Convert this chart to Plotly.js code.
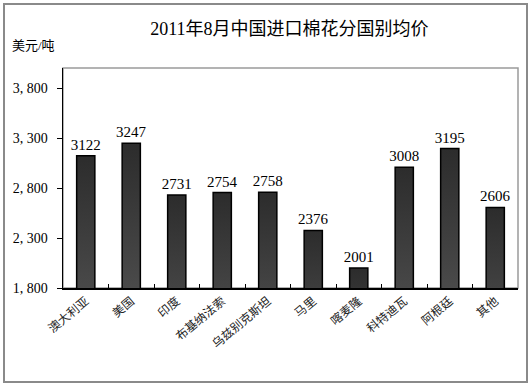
<!DOCTYPE html>
<html>
<head>
<meta charset="utf-8">
<script src="https://cdn.plot.ly/plotly-3.0.1.min.js"></script>
<style>
html,body{margin:0;padding:0;background:#fff;}
#wrap{position:relative;width:531px;height:386px;}
#chart{position:absolute;left:0;top:0;width:531px;height:386px;}
#frame{position:absolute;left:3px;top:3px;width:521px;height:376px;border:2px solid #8a8a8a;pointer-events:none;}
</style>
</head>
<body>
<div id="wrap"><div id="chart"></div><div id="frame"></div></div>
<script>
const categories = ["澳大利亚","美国","印度","布基纳法索","乌兹别克斯坦","马里","喀麦隆","科特迪瓦","阿根廷","其他"];
const prices = [3122, 3247, 2731, 2754, 2758, 2376, 2001, 3008, 3195, 2606];
const yTickVals = [1800, 2300, 2800, 3300, 3800];
const yTickText = ["1, 800","2, 300","2, 800","3, 300","3, 800"];
const chartTitle = "2011年8月中国进口棉花分国别均价";
const unitLabel = "美元/吨";

const FONT = "'Liberation Serif', 'Noto Sans CJK SC', serif";

const trace = {
  type: "bar",
  x: categories,
  y: prices,
  text: prices.map(String),
  textposition: "outside",
  constraintext: "none",
  cliponaxis: false,
  textfont: {family: FONT, size: 15, color: "#000"},
  marker: {color: "#505050", line: {color: "#000", width: 1.5}},
  hoverinfo: "none"
};

const layout = {
  width: 531, height: 386,
  margin: {l: 63, r: 13, t: 68, b: 98},
  paper_bgcolor: "#fff", plot_bgcolor: "#fff",
  showlegend: false,
  bargap: 0.6,
  font: {family: FONT, color: "#000"},
  title: {text: chartTitle, font: {family: FONT, size: 18, color: "#000"}, x: 0.545, xanchor: "center", y: 0.925, yanchor: "middle"},
  xaxis: {
    type: "category",
    showline: true, linecolor: "#000", linewidth: 1.5,
    ticks: "inside", tickson: "boundaries", ticklen: 4, tickcolor: "#000",
    tickangle: -40, tickfont: {family: FONT, size: 12, color: "#222"},
    showgrid: false, zeroline: false, fixedrange: true
  },
  yaxis: {
    range: [1800, 4000],
    tickvals: yTickVals, ticktext: yTickText,
    showline: true, linecolor: "#000", linewidth: 1.5,
    ticks: "outside", ticklen: 5, tickcolor: "#000",
    tickfont: {family: FONT, size: 14}, ticklabelstandoff: 6,
    showgrid: false, zeroline: false, fixedrange: true
  },
  shapes: [
    {type: "rect", xref: "paper", yref: "paper", x0: 0, x1: 1, y0: 0, y1: 1,
     line: {color: "#9a9a9a", width: 1.5}, fillcolor: "rgba(0,0,0,0)", layer: "below"}
  ],
  annotations: [
    {text: unitLabel, xref: "paper", yref: "paper", x: -0.064, y: 1.1, xanchor: "center", yanchor: "middle",
     showarrow: false, font: {family: FONT, size: 13, color: "#000"}}
  ]
};

Plotly.newPlot("chart", [trace], layout, {displayModeBar: false, staticPlot: true}).then(function(gd){
  const svg = gd.querySelector("svg.main-svg");
  const ns = "http://www.w3.org/2000/svg";
  let defs = svg.querySelector("defs");
  if (!defs) { defs = document.createElementNS(ns, "defs"); svg.insertBefore(defs, svg.firstChild); }
  const g = document.createElementNS(ns, "linearGradient");
  g.setAttribute("id", "barGrad");
  g.setAttribute("x1", "0"); g.setAttribute("y1", "0"); g.setAttribute("x2", "0"); g.setAttribute("y2", "1");
  [["0", "#2c2c2c"], ["1", "#707070"]].forEach(function(s){
    const st = document.createElementNS(ns, "stop");
    st.setAttribute("offset", s[0]); st.setAttribute("stop-color", s[1]);
    g.appendChild(st);
  });
  defs.appendChild(g);
  gd.querySelectorAll(".barlayer .point path").forEach(function(p){
    p.style.fill = "url(#barGrad)";
  });
});
</script>
</body>
</html>
